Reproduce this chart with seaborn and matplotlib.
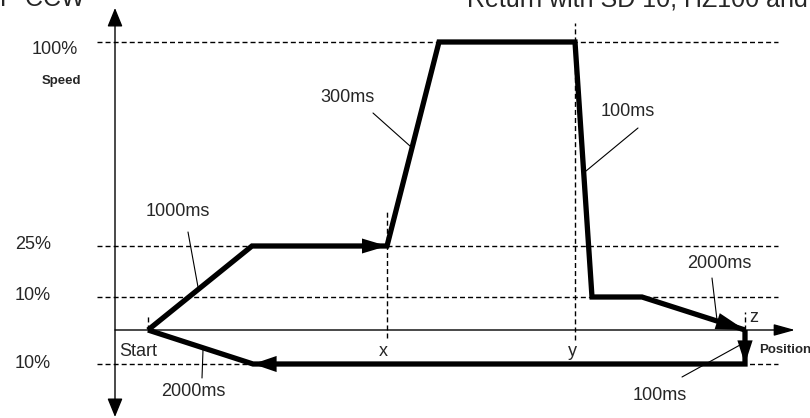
import numpy as np
import pandas as pd
import matplotlib
matplotlib.use("Agg")
import matplotlib.pyplot as plt
from matplotlib.lines import Line2D
import seaborn as sns

# Speed profile (position units, speed in %)
profile_pos = [33, 137, 272, 324, 460, 477, 527, 630]
profile_speed = [0, 25, 25, 100, 100, 10, 10, 0]
return_pos = [630, 630, 138, 33]
return_speed = [0, -10, -10, 0]

# Speed reference levels and their labels
speed_levels = [100, 25, 10, -10]
speed_labels = ["100%", "25%", "10%", "10%"]

# Position markers
marker_names = ["Start", "x", "y", "z"]
marker_pos = [33, 272, 460, 630]
marker_top = [5, 37.5, 107, 5.5]
marker_bottom = [0, -2.4, -2.9, 0]

# Ramp times
ramp_times = ["1000ms", "300ms", "100ms", "2000ms", "2000ms", "100ms"]

W, H = 810, 418

sns.set_style("white")
plt.rcParams["font.family"] = ["Liberation Sans", "DejaVu Sans"]

fig = plt.figure(figsize=(W / 100, H / 100), dpi=100)
ax = fig.add_axes([0, 0, 1, 1])

# schematic (non linear) speed axis
spd_k = [-40, -10, 0, 10, 25, 100, 140]
hgt_k = [-48, 54, 88, 121, 172, 376, 484.8]


def fwd(s):
    return np.interp(s, spd_k, hgt_k)


def inv(h):
    return np.interp(h, hgt_k, spd_k)


ax.set_yscale("function", functions=(fwd, inv))
ax.set_xlim(-115, 695)
ax.set_ylim(inv(0), inv(H))
ax.axis("off")

dash = (0, (3.6, 2.2))

# reference dashed lines
ax.hlines(speed_levels, -18, 663, colors="k", linestyles=dash, lw=1, zorder=1)
ax.vlines(marker_pos, marker_bottom, marker_top, colors="k", linestyles=dash, lw=1, zorder=1)

# axes with arrows
ax.annotate("", xy=(0, inv(H - 8)), xytext=(0, inv(1)),
            arrowprops=dict(arrowstyle="<|-|>,head_length=11.5,head_width=4.7",
                            color="k", lw=1, shrinkA=0, shrinkB=0, mutation_scale=1))
ax.annotate("", xy=(680, 0), xytext=(0, 0),
            arrowprops=dict(arrowstyle="-|>,head_length=13,head_width=3.6",
                            color="k", lw=1, shrinkA=0, shrinkB=0, mutation_scale=1))

# profile
df = pd.DataFrame({
    "pos": profile_pos + return_pos,
    "speed": profile_speed + return_speed,
    "leg": ["out"] * len(profile_pos) + ["back"] * len(return_pos),
})
sns.lineplot(data=df, x="pos", y="speed", units="leg", estimator=None, sort=False,
             color="k", lw=3.8, ax=ax, legend=False, zorder=3)
for ln in ax.lines:
    ln.set_solid_joinstyle("miter")
    ln.set_solid_capstyle("butt")


def head(tip, tail, hl, hw):
    ax.annotate("", xy=tip, xytext=tail,
                arrowprops=dict(arrowstyle=f"-|>,head_length={hl},head_width={hw}",
                                color="k", lw=0, shrinkA=0, shrinkB=0, mutation_scale=1),
                zorder=4)


head((profile_pos[2], profile_speed[2]), (profile_pos[1], profile_speed[1]), 18, 5.4)
head((profile_pos[7], profile_speed[7]), (profile_pos[6], profile_speed[6]), 21, 6.0)
head((return_pos[1], return_speed[1]), (return_pos[0], return_speed[0]), 17, 5.5)
head((return_pos[2], return_speed[2]), (return_pos[1], return_speed[1]), 17, 5.8)


def ftext(x, y, s, **kw):
    fig.text(x / W, 1 - y / H, s, ha="center", va="center", **kw)


# speed labels
for lab, (x, y) in zip(speed_labels, [(55, 49), (33, 244), (33, 295), (33, 364)]):
    ftext(x, y, lab, fontsize=13)
ftext(61, 81, "Speed", fontsize=9.5, fontweight="bold")
fig.text(759 / W, 1 - 350 / H, "Position", ha="left", va="center", fontsize=9.5, fontweight="bold")

# marker labels
for name, (x, y) in zip(marker_names, [(138, 352), (383, 352), (572, 351), (754, 318)]):
    ftext(x, y, name, fontsize=13)

# ramp time labels with leader lines
text_xy = [(178, 212), (347, 98), (628, 112), (193, 391), (719, 264), (660, 395)]
leaders = [((188, 232), (198, 287)), ((373, 113), (410, 146)), ((638, 128), (586, 171)),
           ((203, 350), (202, 378)), ((712, 278), (717, 320)), ((682, 377), (740, 345))]
for t, (x, y), (p0, p1) in zip(ramp_times, text_xy, leaders):
    ftext(x, y, t, fontsize=13)
    fig.add_artist(Line2D([p0[0] / W, p1[0] / W], [1 - p0[1] / H, 1 - p1[1] / H],
                          transform=fig.transFigure, color="k", lw=0.8))

# clipped header texts
fig.text(0, 1 - 6 / H, "P-CCW", ha="left", va="baseline", fontsize=18)
fig.text(467 / W, 1 - 6 / H, "Return with SD 10, HZ100 and", ha="left", va="baseline", fontsize=18)

fig.savefig("out.png", dpi=100)
